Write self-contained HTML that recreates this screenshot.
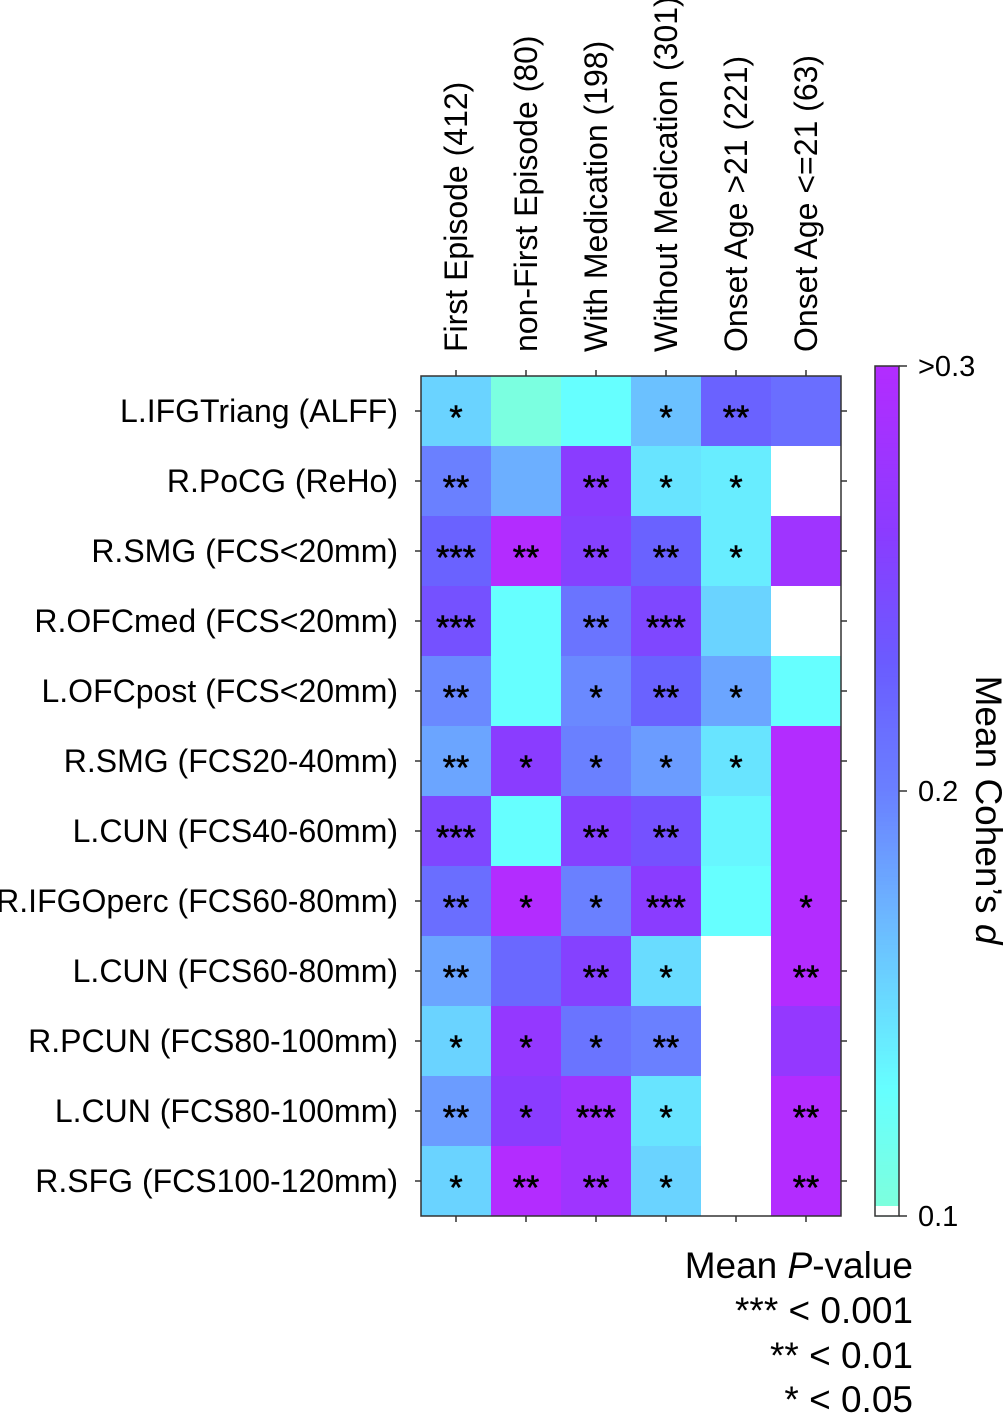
<!DOCTYPE html>
<html><head><meta charset="utf-8"><style>
body{margin:0;background:#fff;}
svg{display:block;font-family:"Liberation Sans",Arial,sans-serif;}
</style></head><body>
<svg id="chart" width="1004" height="1415" viewBox="0 0 1004 1415">
<g id="cells"></g>
<g id="axes"></g>
<g id="cbar"></g>
<g id="legend">
<text x="913" y="1278" font-size="37" text-anchor="end">Mean <tspan font-style="italic">P</tspan>-value</text>
<text x="913" y="1323" font-size="37" text-anchor="end">*** &lt; 0.001</text>
<text x="913" y="1368" font-size="37" text-anchor="end">** &lt; 0.01</text>
<text x="913" y="1412" font-size="37" text-anchor="end">* &lt; 0.05</text>
</g>
</svg>
<script>
const columns = ["First Episode (412)","non-First Episode (80)","With Medication (198)","Without Medication (301)","Onset Age >21 (221)","Onset Age <=21 (63)"];
const rows = ["L.IFGTriang (ALFF)","R.PoCG (ReHo)","R.SMG (FCS<20mm)","R.OFCmed (FCS<20mm)","L.OFCpost (FCS<20mm)","R.SMG (FCS20-40mm)","L.CUN (FCS40-60mm)","R.IFGOperc (FCS60-80mm)","L.CUN (FCS60-80mm)","R.PCUN (FCS80-100mm)","L.CUN (FCS80-100mm)","R.SFG (FCS100-120mm)"];
const values = [
[0.155,0.105,0.13,0.165,0.225,0.215],
[0.2,0.175,0.26,0.145,0.14,null],
[0.225,0.3,0.255,0.225,0.14,0.28],
[0.24,0.13,0.21,0.25,0.155,null],
[0.195,0.13,0.195,0.225,0.18,0.13],
[0.18,0.26,0.2,0.185,0.145,0.3],
[0.25,0.13,0.255,0.24,0.135,0.3],
[0.215,0.3,0.2,0.26,0.13,0.3],
[0.18,0.22,0.255,0.15,null,0.3],
[0.155,0.27,0.21,0.2,null,0.27],
[0.185,0.26,0.28,0.145,null,0.3],
[0.155,0.3,0.28,0.155,null,0.3]];
const stars = [
[1,0,0,1,2,0],[2,0,2,1,1,0],[3,2,2,2,1,0],[3,0,2,3,0,0],[2,0,1,2,1,0],[2,1,1,1,1,0],
[3,0,2,2,0,0],[2,1,1,3,0,1],[2,0,2,1,0,2],[1,1,1,2,0,0],[2,1,3,1,0,2],[1,2,2,1,0,2]];
const cbTicks = [0.1,0.2,0.3];
const cbTickLabels = ["0.1","0.2",">0.3"];

const NS="http://www.w3.org/2000/svg";
const X0=421,Y0=376,CW=70,RH=70,VMIN=0.1,VMAX=0.3;
const CBX=875,CBW=24,CBTOP=366,CBBOT=1216;
const xPos=i=>X0+i*CW, yPos=j=>Y0+j*RH;
const cbY=v=>CBBOT-(v-VMIN)/(VMAX-VMIN)*(CBBOT-CBTOP);
const stops=[[0.1,[127,255,218]],[0.13,[102,255,255]],[0.17,[108,184,255]],[0.2,[106,128,255]],[0.23,[106,92,255]],[0.26,[138,60,255]],[0.3,[179,44,255]]];
function color(v){
  if(v==null) return "#ffffff";
  v=Math.max(VMIN,Math.min(VMAX,v));
  for(let k=1;k<stops.length;k++){
    if(v<=stops[k][0]){const a=stops[k-1],b=stops[k],t=(v-a[0])/(b[0]-a[0]);
      const c=a[1].map((x,i)=>Math.round(x+(b[1][i]-x)*t));return `rgb(${c})`;}
  }
  return "rgb(179,44,255)";
}
function mk(tag,attrs,parent){const e=document.createElementNS(NS,tag);for(const k in attrs)e.setAttribute(k,attrs[k]);parent.appendChild(e);return e;}
const gc=document.getElementById('cells'),ga=document.getElementById('axes'),gb=document.getElementById('cbar');
values.forEach((row,j)=>row.forEach((v,i)=>{
  const r=mk('rect',{x:xPos(i),y:yPos(j),width:CW+0.5,height:RH+0.5,fill:color(v)},gc);
  
  
  const s=stars[j][i];
  if(s>0){const t=mk('text',{x:xPos(i)+CW/2,y:yPos(j)+RH/2+18,'font-size':34,'text-anchor':'middle',fill:'#000',stroke:'#000','stroke-width':0.6},gc);
    t.textContent='*'.repeat(s);
    
    }
}));
const W=columns.length*CW,H=rows.length*RH;
mk('rect',{x:X0,y:Y0,width:W,height:H,fill:'none',stroke:'#333','stroke-width':1.5},ga);
columns.forEach((c,i)=>{
  const cx=xPos(i)+CW/2;
  mk('line',{x1:cx,y1:Y0,x2:cx,y2:Y0-6,stroke:'#333','stroke-width':1.5},ga);
  mk('line',{x1:cx,y1:Y0+H,x2:cx,y2:Y0+H+6,stroke:'#333','stroke-width':1.5},ga);
  const t=mk('text',{x:0,y:0,'font-size':32,'text-anchor':'start',transform:`translate(${cx+11},352) rotate(-90)`},ga);
  t.textContent=c;
  
  
});
rows.forEach((r,j)=>{
  const cy=yPos(j)+RH/2;
  mk('line',{x1:X0,y1:cy,x2:X0-6,y2:cy,stroke:'#333','stroke-width':1.5},ga);
  mk('line',{x1:X0+W,y1:cy,x2:X0+W+6,y2:cy,stroke:'#333','stroke-width':1.5},ga);
  const t=mk('text',{x:398,y:cy+11,'font-size':32,'text-anchor':'end'},ga);
  t.textContent=r;
  
  
});
for(let k=0;k<200;k++){
  const v0=VMIN+(VMAX-VMIN)*k/200,v1=VMIN+(VMAX-VMIN)*(k+1)/200;
  mk('rect',{x:CBX,y:cbY(v1),width:CBW,height:cbY(v0)-cbY(v1)+0.6,fill:color((v0+v1)/2)},gb);
}
mk('rect',{x:CBX,y:CBBOT-10,width:CBW,height:10,fill:'#fff'},gb);
mk('rect',{x:CBX,y:CBTOP,width:CBW,height:CBBOT-CBTOP,fill:'none',stroke:'#333','stroke-width':1.5},gb);
cbTicks.forEach((v,k)=>{
  const y=cbY(v);
  mk('line',{x1:CBX+CBW,y1:y,x2:CBX+CBW+8,y2:y,stroke:'#333','stroke-width':1.5},gb);
  const t=mk('text',{x:918,y:y+10,'font-size':29},gb);
  t.textContent=cbTickLabels[k];
  
  
});
const ct=mk('text',{x:0,y:0,'font-size':37,'text-anchor':'middle',transform:'translate(976,810) rotate(90)'},gb);
ct.innerHTML='Mean Cohen\u2019s <tspan font-style="italic">d</tspan>';


</script>
</body></html>
